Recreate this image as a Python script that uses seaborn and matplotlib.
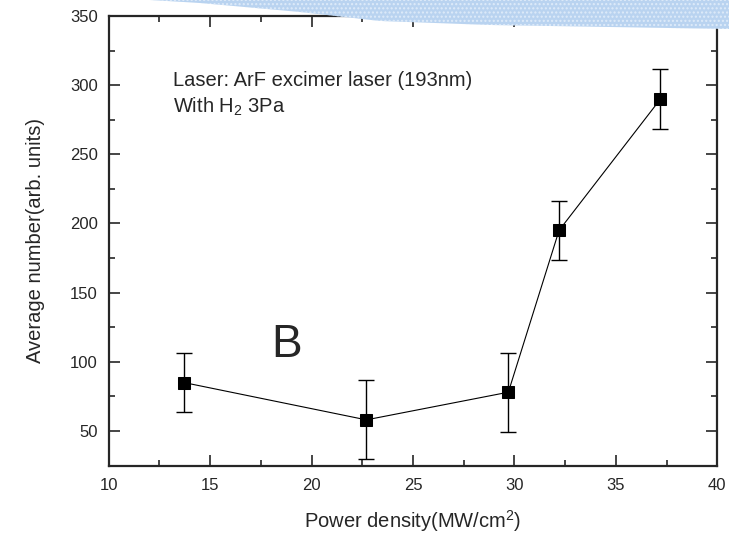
import numpy as np
import pandas as pd
import seaborn as sns
import matplotlib.pyplot as plt
from matplotlib.patches import Polygon
from matplotlib.ticker import MultipleLocator

# values
power = [13.7, 22.7, 29.7, 32.2, 37.2]
counts = [85, 58, 78, 195, 290]
errs = [21.5, 28.5, 28.5, 21.5, 21.5]

df = pd.DataFrame({'power': power, 'counts': counts, 'err': errs})

sns.set_style('ticks')
plt.rcParams['font.family'] = ['Liberation Sans', 'DejaVu Sans']
plt.rcParams['mathtext.fontset'] = 'custom'
plt.rcParams['mathtext.rm'] = 'Liberation Sans'
plt.rcParams['mathtext.it'] = 'Liberation Sans'
plt.rcParams['hatch.linewidth'] = 1.0

W, H = 729, 536
fig = plt.figure(figsize=(W / 100, H / 100), dpi=100)

# light blue slide decoration at the top right (pixel outline)
edge_x = [150, 200, 300, 380, 490, 729]
edge_y = [0, 3, 12, 21, 25, 29]
px = np.linspace(150, 729, 80)
py = np.interp(px, edge_x, edge_y)
verts = [(x / W, 1 - y / H) for x, y in zip(px, py)] + [(1, 1), (150 / W, 1)]
band = Polygon(verts, closed=True, transform=fig.transFigure,
               facecolor='#b9d3f0', edgecolor='#deebf9', linewidth=0,
               hatch='....', zorder=0)
fig.patches.append(band)

ax = fig.add_axes([108.7 / W, 1 - 465.5 / H, (717.3 - 108.7) / W, (465.5 - 16) / H])
ax.set_facecolor('none')

sns.lineplot(data=df, x='power', y='counts', ax=ax, color='black', linewidth=0.8,
             marker='s', markersize=8, markeredgecolor='black', markerfacecolor='black')
ax.errorbar(df['power'], df['counts'], yerr=df['err'], fmt='none', ecolor='black',
            elinewidth=1, capsize=5.5, capthick=1)

ax.set_xlim(10, 40)
ax.set_ylim(25, 350)
ax.xaxis.set_major_locator(MultipleLocator(5))
ax.xaxis.set_minor_locator(MultipleLocator(2.5))
ax.yaxis.set_minor_locator(MultipleLocator(25))
ax.set_yticks([50, 100, 150, 200, 250, 300, 350])
ax.tick_params(which='both', direction='in', top=True, right=True, width=1.2, labelsize=12)
ax.tick_params(which='major', length=8)
ax.tick_params(which='minor', length=4.5)
ax.tick_params(axis='x', pad=9)
ax.tick_params(axis='y', pad=8)
for s in ax.spines.values():
    s.set_linewidth(1.6)
    s.set_visible(True)

ax.set_xlabel('Power density(MW/cm$^2$)', fontsize=14.5)
ax.set_ylabel('Average number(arb. units)', fontsize=14.5)
ax.xaxis.set_label_coords(0.5, -0.095)
ax.yaxis.set_label_coords(-0.104, 0.5)

fig.text(173 / W, 1 - 86 / H, 'Laser: ArF excimer laser (193nm)',
         fontsize=14.5, va='baseline', ha='left')
fig.text(173 / W, 1 - 113 / H, 'With H$_2$ 3Pa',
         fontsize=14.5, va='baseline', ha='left')
fig.text(271 / W, 1 - 357 / H, 'B', fontsize=33, va='baseline', ha='left')

fig.savefig('out.png', dpi=100)
